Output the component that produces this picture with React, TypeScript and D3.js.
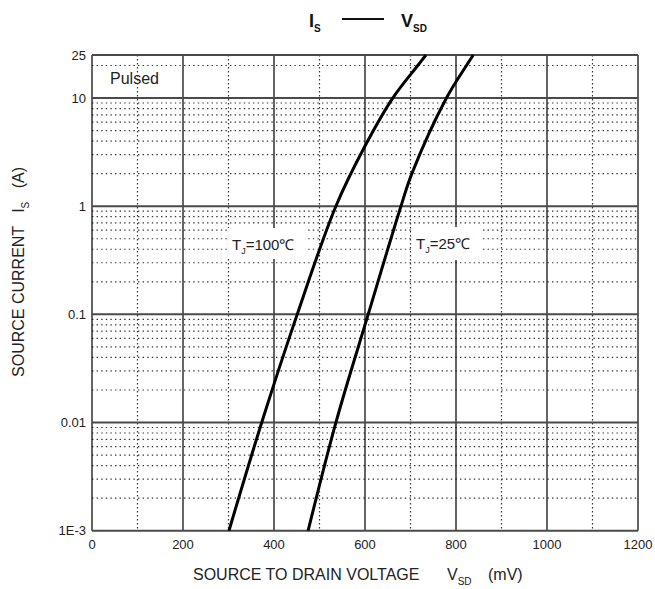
import React, { useEffect, useRef } from "react";
import * as d3 from "d3";

const xTicks = [0, 200, 400, 600, 800, 1000, 1200];
const xMinor = [100, 300, 500, 700, 900, 1100];
const yTicks = [0.001, 0.01, 0.1, 1, 10, 25];
const yTickLabels = ["1E-3", "0.01", "0.1", "1", "10", "25"];
const decades = [0.001, 0.01, 0.1, 1];

// T_J = 100 C
const hotCurrent = [0.001, 0.01, 0.1, 1, 3.6, 10, 20, 25];
const hotVoltage = [301, 373, 451, 536, 600, 661, 716, 734];
// T_J = 25 C
const coldCurrent = [0.001, 0.01, 0.1, 1, 2, 10, 20, 25];
const coldVoltage = [475, 536, 607, 679, 703, 779, 823, 838];

const FONT = "'Liberation Sans', Arial, Helvetica, sans-serif";

const App = () => {
  const svgRef = useRef<SVGSVGElement>(null);

  useEffect(() => {
    const svg = d3.select(svgRef.current);
    svg.selectAll("*").remove();

    const x = d3.scaleLinear().domain([0, 1200]).range([92, 638]);
    const y = d3.scaleLog().domain([0.001, 25]).range([530.7, 55]);

    const g = svg.append("g");

    // minor horizontal grid
    const minorY: number[] = [];
    decades.forEach((d) => {
      for (let k = 2; k <= 9; k++) minorY.push(d * k);
    });
    minorY.push(20);
    g.selectAll(".hminor")
      .data(minorY)
      .join("line")
      .attr("x1", x(0))
      .attr("x2", x(1200))
      .attr("y1", (d) => y(d))
      .attr("y2", (d) => y(d))
      .attr("stroke", "#333")
      .attr("stroke-width", 1.2)
      .attr("stroke-dasharray", "1.4 3.2");

    // minor vertical grid
    g.selectAll(".vminor")
      .data(xMinor)
      .join("line")
      .attr("x1", (d) => x(d))
      .attr("x2", (d) => x(d))
      .attr("y1", y(25))
      .attr("y2", y(0.001))
      .attr("stroke", "#333")
      .attr("stroke-width", 1.2)
      .attr("stroke-dasharray", "1.4 2.6");

    // major vertical grid
    g.selectAll(".vmajor")
      .data(xTicks)
      .join("line")
      .attr("x1", (d) => x(d))
      .attr("x2", (d) => x(d))
      .attr("y1", y(25))
      .attr("y2", y(0.001))
      .attr("stroke", "#111")
      .attr("stroke-width", 1.3);

    // major horizontal grid
    g.selectAll(".hmajor")
      .data(yTicks)
      .join("line")
      .attr("x1", x(0))
      .attr("x2", x(1200))
      .attr("y1", (d) => y(d))
      .attr("y2", (d) => y(d))
      .attr("stroke", "#4a4a4a")
      .attr("stroke-width", 2);

    // white boxes behind the curve labels
    svg.append("rect").attr("x", 228).attr("y", 228).attr("width", 78).attr("height", 31).attr("fill", "#fff");
    svg.append("rect").attr("x", 413).attr("y", 227).attr("width", 68).attr("height", 33).attr("fill", "#fff");

    const line = d3
      .line<[number, number]>()
      .x((d) => x(d[0]))
      .y((d) => y(d[1]))
      .curve(d3.curveCatmullRom.alpha(0.5));

    const series = [
      hotVoltage.map((v, i) => [v, hotCurrent[i]] as [number, number]),
      coldVoltage.map((v, i) => [v, coldCurrent[i]] as [number, number]),
    ];
    svg
      .selectAll(".curve")
      .data(series)
      .join("path")
      .attr("d", (d) => line(d))
      .attr("fill", "none")
      .attr("stroke", "#000")
      .attr("stroke-width", 3);

    // tick labels
    svg
      .selectAll(".xlab")
      .data(xTicks)
      .join("text")
      .attr("x", (d) => x(d))
      .attr("y", 549)
      .attr("text-anchor", "middle")
      .style("font", `13px ${FONT}`)
      .attr("fill", "#222")
      .text((d) => d);

    svg
      .selectAll(".ylab")
      .data(yTicks)
      .join("text")
      .attr("x", 86)
      .attr("y", (d) => y(d) + 4.5)
      .attr("text-anchor", "end")
      .style("font", `13px ${FONT}`)
      .attr("fill", "#222")
      .text((d, i) => yTickLabels[i]);

    // Pulsed
    svg.append("text").attr("x", 110).attr("y", 84).style("font", `16px ${FONT}`).attr("fill", "#222").text("Pulsed");

    // curve labels
    const tlabel = (tx: number, ty: number, val: string) => {
      const t = svg.append("text").attr("x", tx).attr("y", ty).style("font", `15px ${FONT}`).attr("fill", "#222");
      t.append("tspan").text("T");
      t.append("tspan").attr("dy", 4).style("font-size", "9px").text("J");
      t.append("tspan").attr("dy", -4).text(val);
    };
    tlabel(232, 250, "=100℃");
    tlabel(416, 249, "=25℃");

    // title
    const t1 = svg.append("text").attr("x", 309).attr("y", 27).style("font", `bold 18px ${FONT}`).attr("fill", "#111");
    t1.append("tspan").text("I");
    t1.append("tspan").attr("dy", 5).style("font-size", "10px").text("S");
    svg.append("line").attr("x1", 342).attr("x2", 384).attr("y1", 19).attr("y2", 19).attr("stroke", "#111").attr("stroke-width", 2);
    const t2 = svg.append("text").attr("x", 401).attr("y", 27).style("font", `bold 18px ${FONT}`).attr("fill", "#111");
    t2.append("tspan").text("V");
    t2.append("tspan").attr("dy", 5).style("font-size", "10px").text("SD");

    // axis titles
    const xt = svg.append("text").attr("x", 193).attr("y", 580).style("font", `16px ${FONT}`).attr("fill", "#222");
    xt.append("tspan").text("SOURCE TO DRAIN VOLTAGE");
    xt.append("tspan").attr("x", 447).text("V");
    xt.append("tspan").attr("dy", 5).style("font-size", "10px").text("SD");
    xt.append("tspan").attr("x", 488).attr("dy", -5).text("(mV)");

    const yt = svg
      .append("text")
      .attr("transform", "translate(24,272) rotate(-90)")
      .attr("text-anchor", "middle")
      .style("font", `16px ${FONT}`)
      .attr("fill", "#222")
      .attr("xml:space", "preserve");
    yt.append("tspan").text("SOURCE CURRENT   I");
    yt.append("tspan").attr("dy", 5).style("font-size", "10px").text("S");
    yt.append("tspan").attr("dy", -5).text("   (A)");
  }, []);

  return (
    <svg
      ref={svgRef}
      width={655}
      height={589}
      style={{ position: "absolute", left: 0, top: 0, background: "#fff" }}
    />
  );
};

export default App;
